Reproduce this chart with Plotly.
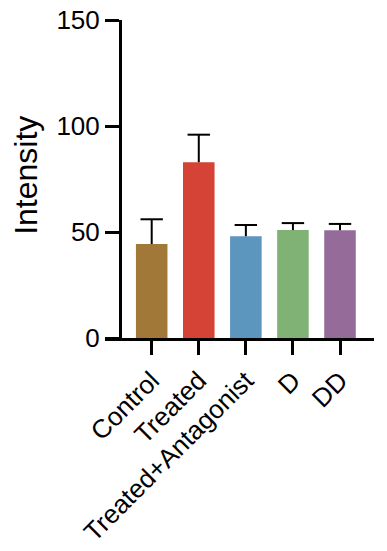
import plotly.graph_objects as go

categories = ["Control", "Treated", "Treated+Antagonist", "D", "DD"]
means = [44.3, 82.9, 48.0, 50.9, 50.8]
sem_upper = [11.7, 13.0, 5.3, 3.3, 3.0]
colors = ["#A17838", "#D44335", "#5C95BD", "#7FB274", "#946B99"]
y_ticks = [0, 50, 100, 150]

FONT = "Liberation Sans, Arial, sans-serif"

tops = [m + s for m, s in zip(means, sem_upper)]

fig = go.Figure()
fig.add_trace(go.Bar(
    x=categories,
    y=means,
    marker=dict(color=colors, line=dict(width=0)),
    width=0.67,
))
# upper-only error bars: stem from the bar top to the cap, cap drawn as a marker
fig.add_trace(go.Scatter(
    x=categories,
    y=tops,
    mode="markers",
    marker=dict(symbol="line-ew", size=16, color="black",
                line=dict(width=2, color="black")),
    error_y=dict(type="data", array=[0] * len(means), arrayminus=sem_upper,
                 symmetric=False, thickness=2, width=0, color="black"),
))

W, H = 387, 551
L, T, R, B = 105, 20, 387 - 374, 551 - 338
plot_w = W - L - R

fig.update_layout(
    template="none",
    width=W, height=H,
    margin=dict(l=L, r=R, t=T, b=B, autoexpand=False),
    paper_bgcolor="white", plot_bgcolor="white",
    showlegend=False,
    font=dict(family=FONT, color="black", size=26),
    xaxis=dict(
        range=[-0.992, 4.722], automargin=False,
        showline=True, linecolor="black", linewidth=3,
        ticks="outside", ticklen=14, tickwidth=3, tickcolor="black",
        tickangle=-45, tickfont=dict(size=26, family=FONT, color="black"),
        ticklabeloverflow="allow",
        showgrid=False, zeroline=False,
    ),
    yaxis=dict(
        range=[0, 150], tickvals=y_ticks, automargin=False,
        anchor="free", position=15 / plot_w,
        showline=True, linecolor="black", linewidth=3,
        ticks="outside", ticklen=14, tickwidth=3, tickcolor="black",
        tickfont=dict(size=26, family=FONT, color="black"),
        ticklabeloverflow="allow",
        showgrid=False, zeroline=False,
    ),
    annotations=[dict(
        text="Intensity", xref="paper", yref="paper",
        x=(26 - L) / plot_w, y=0.51, xanchor="center", yanchor="middle",
        textangle=-90, showarrow=False,
        font=dict(size=32, family=FONT, color="black"),
    )],
)

fig.write_html("out.html",
               config={"displayModeBar": False, "staticPlot": True},
               post_script="document.body.style.margin='0';document.body.style.padding='0';")
